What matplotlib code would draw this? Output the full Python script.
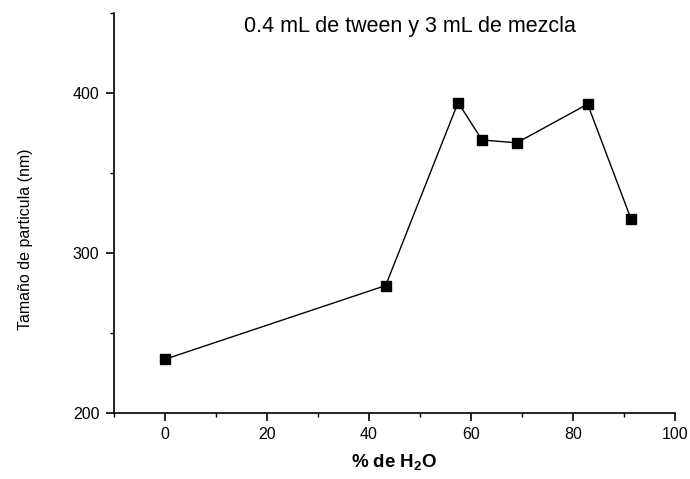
import matplotlib.pyplot as plt
from matplotlib.ticker import MultipleLocator

plt.rcParams['font.family'] = ['Liberation Sans', 'DejaVu Sans']
plt.rcParams['mathtext.fontset'] = 'custom'
plt.rcParams['mathtext.rm'] = 'Liberation Sans'
plt.rcParams['mathtext.bf'] = 'Liberation Sans:bold'

# % de agua en la mezcla y tamaño de partícula medido
agua_pct = [0, 43.3, 57.5, 62.2, 69.0, 82.9, 91.4]
tamano_nm = [233.5, 279.6, 394.0, 370.6, 368.8, 393.0, 321.3]

fig = plt.figure(figsize=(6.9, 4.79), dpi=100)
ax = fig.add_axes([0.165, 0.138, 0.813, 0.835])

ax.plot(agua_pct, tamano_nm, color='black', linewidth=1.0,
        marker='s', markersize=7.8, markerfacecolor='black',
        markeredgecolor='black')

ax.set_xlim(-10, 100)
ax.set_ylim(200, 450)
ax.xaxis.set_major_locator(MultipleLocator(20))
ax.xaxis.set_minor_locator(MultipleLocator(10))
ax.yaxis.set_major_locator(MultipleLocator(100))
ax.yaxis.set_minor_locator(MultipleLocator(50))
ax.set_yticks([200, 300, 400])

for lado in ['top', 'right']:
    ax.spines[lado].set_visible(False)
for lado in ['left', 'bottom']:
    ax.spines[lado].set_linewidth(1.2)

ax.tick_params(which='major', direction='out', length=5.5, width=1.2,
               labelsize=11.5, pad=5)
ax.tick_params(which='minor', direction='out', length=3, width=1.0)

ax.set_xlabel('% de H$_\\mathbf{2}$O', fontsize=13.5, fontweight='bold',
              labelpad=7)
ax.set_ylabel('Tamaño de particula (nm)', fontsize=11.5)
ax.yaxis.set_label_coords(-0.145, 0.435)

ax.text(48, 448, '0.4 mL de tween y 3 mL de mezcla', ha='center', va='top',
        fontsize=15.5)

fig.savefig('out.png', dpi=100)
